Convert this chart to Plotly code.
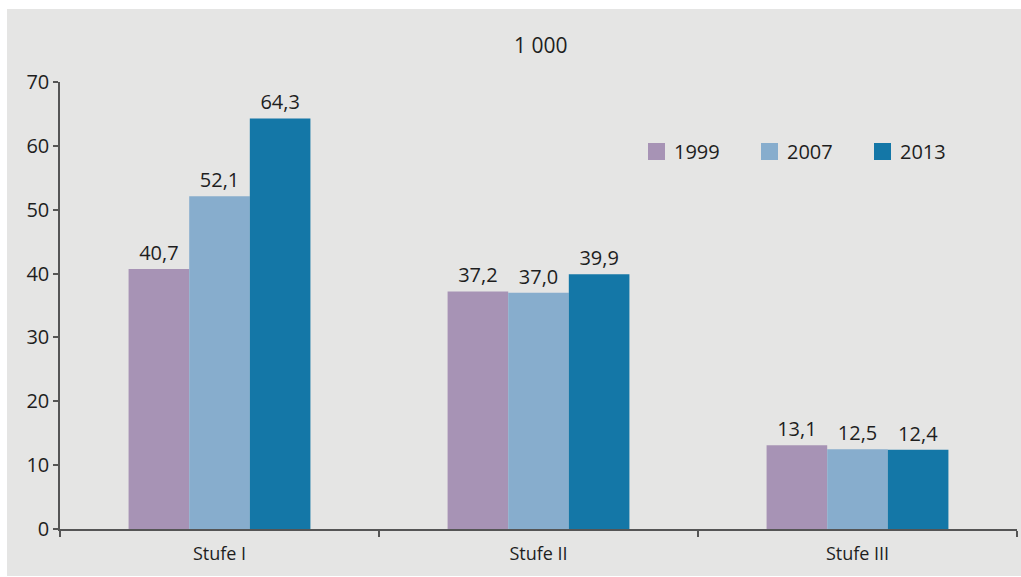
import plotly.graph_objects as go

# Data
categories = ["Stufe I", "Stufe II", "Stufe III"]
years = ["1999", "2007", "2013"]
values_1999 = [40.7, 37.2, 13.1]
values_2007 = [52.1, 37.0, 12.5]
values_2013 = [64.3, 39.9, 12.4]
colors = ["#A793B5", "#87ADCD", "#1477A7"]
y_ticks = [0, 10, 20, 30, 40, 50, 60, 70]

FONT = "Open Sans"
TEXT = "#1e1e1e"
BG = "#E5E5E4"

W, H = 1021, 577
L, R, T, B = 60, 4, 82, 48
pw, ph = W - L - R, H - T - B

def px_x(x):
    return (x - L) / pw

def px_y(y):
    return (H - B - y) / ph

fig = go.Figure()
for name, vals, col in zip(years, [values_1999, values_2007, values_2013], colors):
    fig.add_trace(go.Bar(
        name=name, x=categories, y=vals,
        marker=dict(color=col, line=dict(width=0)),
        texttemplate="%{y:.1f}", textposition="outside",
        textfont=dict(family=FONT, size=20, color=TEXT),
        cliponaxis=False, showlegend=False,
    ))

shapes = [dict(
    type="rect", xref="paper", yref="paper", layer="below",
    x0=px_x(7), x1=px_x(1021), y0=px_y(576), y1=px_y(9),
    fillcolor=BG, line=dict(width=0),
)]
annotations = [dict(
    text="1 000", xref="paper", yref="paper", x=px_x(540), y=px_y(45),
    xanchor="center", yanchor="middle", showarrow=False,
    font=dict(family=FONT, size=21, color=TEXT),
)]

# Legend: colour swatch followed by the year label
legend_x0, legend_step, legend_y = 648, 113, 151.5
for i, (name, col) in enumerate(zip(years, colors)):
    x0 = legend_x0 + i * legend_step
    shapes.append(dict(
        type="rect", xref="paper", yref="paper", layer="above",
        x0=px_x(x0), x1=px_x(x0 + 17), y0=px_y(legend_y + 8.5), y1=px_y(legend_y - 8.5),
        fillcolor=col, line=dict(width=0),
    ))
    annotations.append(dict(
        text=name, xref="paper", yref="paper", x=px_x(x0 + 24), y=px_y(legend_y),
        xanchor="left", yanchor="middle", showarrow=False,
        font=dict(family=FONT, size=20, color=TEXT),
    ))

fig.update_layout(
    width=W, height=H,
    margin=dict(l=L, r=R, t=T, b=B),
    paper_bgcolor="white",
    plot_bgcolor=BG,
    separators=",.",
    barmode="group",
    bargap=0.43,
    bargroupgap=0,
    font=dict(family=FONT, size=18, color=TEXT),
    showlegend=False,
    shapes=shapes,
    annotations=annotations,
)

fig.update_yaxes(
    range=[0, 70], tickvals=y_ticks, showgrid=False, zeroline=False,
    showline=True, linecolor="#555555", linewidth=1.5,
    ticks="outside", ticklen=5, tickcolor="#555555", tickwidth=1.5,
    tickfont=dict(family=FONT, size=20, color=TEXT),
)
fig.update_xaxes(
    showgrid=False, showline=True, linecolor="#555555", linewidth=1.5,
    ticks="outside", tickson="boundaries", ticklen=6, tickcolor="#555555", tickwidth=1.5,
    ticklabelstandoff=8,
    tickfont=dict(family=FONT, size=18, color=TEXT),
)

fig.write_html("out.html")
